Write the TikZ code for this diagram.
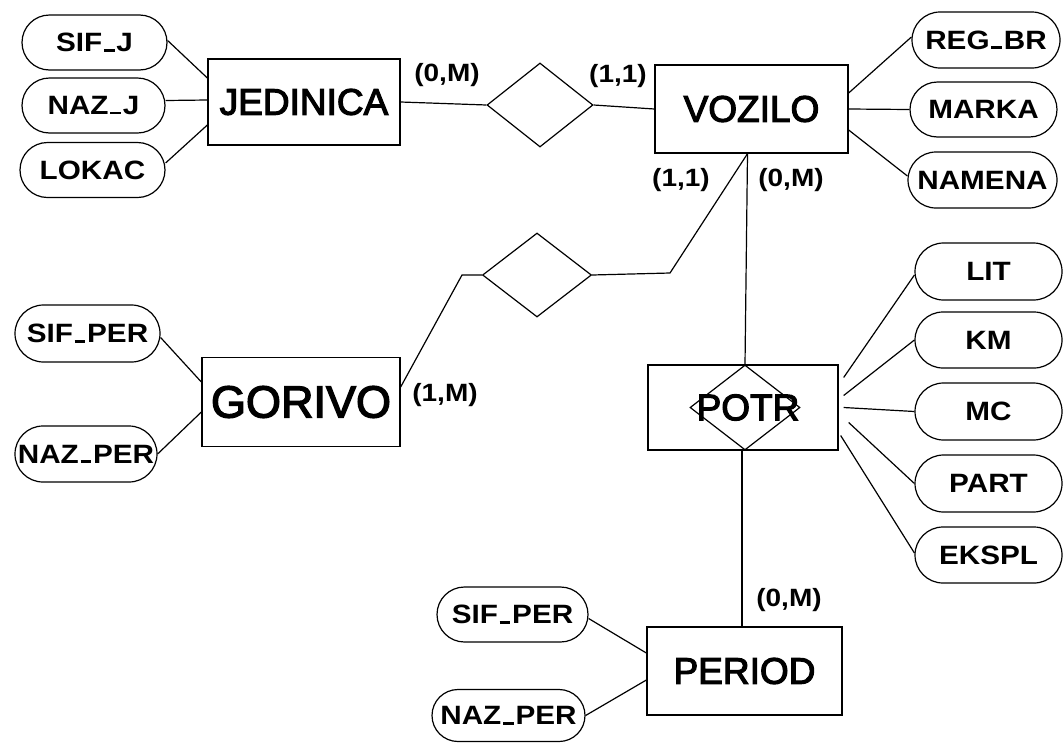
\documentclass[tikz,border=0pt]{standalone}
\usepackage{graphicx}
\usepackage{fontspec}
\setmainfont{Liberation Sans}
\newfontfamily\entfont{Liberation Sans}[FakeBold=3]
\usetikzlibrary{shapes.misc,shapes.geometric,calc}
\newcommand{\myst}[1]{\scalebox{1.12}[1]{#1}}
\newcommand{\us}{\hspace{0.06em}\rule{0.36em}{0.1em}\hspace{0.06em}}
\begin{document}
\begin{tikzpicture}[x=1pt,y=-1pt,
  ent/.style={draw, line width=1.3pt, rectangle, inner sep=0pt, font=\entfont\fontsize{37}{40}\selectfont},
  attr/.style={draw, line width=1.2pt, rounded rectangle, inner sep=0pt, minimum width=146pt, minimum height=56pt, font=\bfseries\fontsize{26.5}{30}\selectfont},
  rel/.style={draw, line width=1.2pt, diamond, inner sep=0pt, minimum width=106pt, minimum height=84pt},
  card/.style={inner sep=0pt, font=\bfseries\fontsize{25}{30}\selectfont},
  conn/.style={line width=1.2pt}
]
\useasboundingbox (0,0) rectangle (1064,742);

% entities
\node[ent, minimum width=192pt, minimum height=86pt] (jed) at (304,102) {JEDINICA};
\node[ent, minimum width=193pt, minimum height=88pt] (voz) at (751.5,109) {VOZILO};
\node[ent, minimum width=198pt, minimum height=89pt, font=\entfont\fontsize{45}{48}\selectfont] (gor) at (301,402) {GORIVO};
\node[ent, minimum width=190pt, minimum height=85pt] (potr) at (743,407.5) {};
\node[rel, minimum width=110pt, minimum height=85pt] (potrd) at (745,407.5) {};
\node[inner sep=0pt, font=\entfont\fontsize{37}{40}\selectfont] (potrt) at (748,407.5) {POTR};
\node[ent, minimum width=195pt, minimum height=88pt] (per) at (744.5,671) {PERIOD};

% relationships
\node[rel] (d1) at (540,105) {};
\node[rel, minimum width=109pt] (d2) at (537,275) {};

% attributes
\node[attr, minimum width=145pt, minimum height=55pt] (sifj) at (94.5,42.5) {\myst{SIF\us J}};
\node[attr, minimum width=143pt, minimum height=55pt] (nazj) at (93.5,105.5) {\myst{NAZ\us J}};
\node[attr, minimum width=145pt, minimum height=55pt] (lokac) at (92.5,170) {\myst{LOKAC}};

\node[attr, minimum width=148pt] (regbr) at (986,40) {\myst{REG\us BR}};
\node[attr, minimum width=147pt, minimum height=55pt] (marka) at (983.5,109.5) {\myst{MARKA}};
\node[attr, minimum width=149pt] (namena) at (982.5,180) {\myst{NAMENA}};

\node[attr, minimum width=145pt, minimum height=57pt] (sifper1) at (87.5,333.5) {\myst{SIF\us PER}};
\node[attr, minimum width=142pt] (nazper1) at (86,454) {\myst{NAZ\us PER}};

\node[attr, minimum width=147pt, minimum height=57pt] (lit) at (988.5,271.5) {\myst{LIT}};
\node[attr, minimum width=147pt] (km) at (988.5,340) {\myst{KM}};
\node[attr, minimum width=147pt, minimum height=57pt] (mc) at (988.5,411.5) {\myst{MC}};
\node[attr, minimum width=147pt, minimum height=57pt] (part) at (988.5,483.5) {\myst{PART}};
\node[attr, minimum width=147pt] (ekspl) at (988.5,555) {\myst{EKSPL}};

\node[attr, minimum width=151pt, minimum height=55pt] (sifper2) at (512.5,614.5) {\myst{SIF\us PER}};
\node[attr, minimum width=153pt, minimum height=52pt] (nazper2) at (508.5,715.5) {\myst{NAZ\us PER}};

% cardinalities
\node[card] (k1) at (447,75) {\myst{(0,M)}};
\node[card] (k2) at (618,76) {\myst{(1,1)}};
\node[card] (k3) at (681,180) {\myst{(1,1)}};
\node[card] (k4) at (791,180) {\myst{(0,M)}};
\node[card] (k5) at (445,395) {\myst{(1,M)}};
\node[card] (k6) at (789,600) {\myst{(0,M)}};

% connectors: JEDINICA
\draw[conn] ([yshift=2pt]sifj.east) -- ([yshift=24pt]jed.west);
\draw[conn] ([yshift=5pt]nazj.east) -- ([yshift=2pt]jed.west);
\draw[conn] ([yshift=7pt]lokac.east) -- ([yshift=-23pt]jed.west);
\draw[conn] (jed.east) -- (d1.west);
\draw[conn] (d1.east) -- (voz.west);

% VOZILO
\draw[conn] ([yshift=16pt]voz.east) -- ([yshift=3pt]regbr.west);
\draw[conn] (voz.east) -- (marka.west);
\draw[conn] ([yshift=-21pt]voz.east) -- ([yshift=4pt]namena.west);

\coordinate (jn) at ([xshift=-4pt]voz.south);
\coordinate (c1) at (670,273);
\coordinate (c2) at (462,275);
\draw[conn] (jn) -- (c1) -- (d2.east);
\draw[conn] (d2.west) -- (c2) -- ([yshift=15pt]gor.east);
\draw[conn] (jn) -- (potrd.north);
\draw[conn] ([xshift=-3pt]potrd.south) -- ([xshift=-3pt]potrd.south |- per.north);

% GORIVO
\draw[conn] ([yshift=-4pt]sifper1.east) -- ([yshift=20pt]gor.west);
\draw[conn] (nazper1.east) -- ([yshift=-10pt]gor.west);

% POTR
\draw[conn] ([shift={(5pt,30pt)}]potr.east) -- ([yshift=-3.5pt]lit.west);
\draw[conn] ([shift={(5pt,12pt)}]potr.east) -- (km.west);
\draw[conn] ([xshift=5pt]potr.east) -- (mc.west);
\draw[conn] ([shift={(10pt,-15pt)}]potr.east) -- (part.west);
\draw[conn] ([shift={(2pt,-28pt)}]potr.east) -- ([yshift=2pt]ekspl.west);

% PERIOD
\draw[conn] ([yshift=-4pt]sifper2.east) -- ([yshift=18pt]per.west);
\draw[conn] (nazper2.east) -- ([yshift=-9pt]per.west);
\end{tikzpicture}
\end{document}
